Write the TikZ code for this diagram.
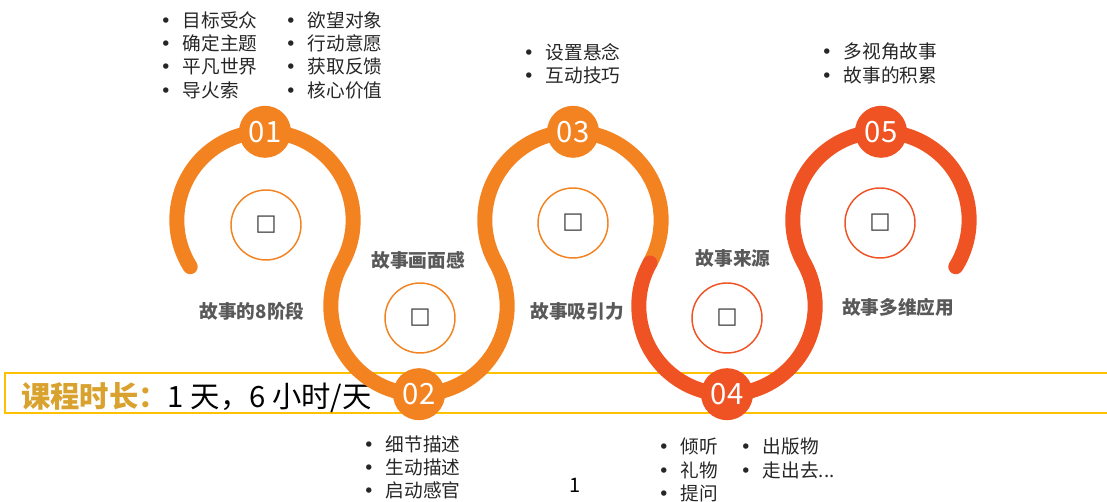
\documentclass[tikz,border=0pt]{standalone}
\usepackage{fontspec}
\setmainfont{Noto Sans CJK SC}
\newfontfamily\symfont{DejaVu Sans}
\definecolor{loopor}{HTML}{F38221}
\definecolor{loopred}{HTML}{EF5324}
\definecolor{labgray}{HTML}{595959}
\definecolor{timegold}{HTML}{D9A22E}
\definecolor{boxyellow}{HTML}{FFC000}
\newcommand\itm[1]{\makebox[17pt][l]{\symfont\textbullet}#1}

\begin{document}
\begin{tikzpicture}[x=.75pt,y=.75pt,
  loopline/.style={line width=11.25pt,line cap=round},
  badge/.style={circle,fill=#1,minimum size=39pt,inner sep=0pt,text=white,font=\fontsize{22}{22}\selectfont},
  hubring/.style={circle,draw=#1,line width=1.1pt,minimum size=52.5pt,inner sep=0pt,text=black!75,font=\symfont\fontsize{17}{17}\selectfont},
  steplab/.style={inner sep=0pt,text=labgray,font=\bfseries\fontsize{14}{14}\selectfont},
  blist/.style={anchor=north west,inner sep=0pt,align=left,text=black!85,font=\fontsize{14}{17.5}\selectfont}]
\useasboundingbox (0,0) rectangle (1107,502);
% course time
\draw[boxyellow,line width=1.2pt] (5,129) rectangle (1120,89);
\node[anchor=west,inner sep=0pt,font=\fontsize{22}{22}\selectfont] (time) at (21,104)
  {\textcolor{timegold}{\bfseries 课程时长：}1 天，6 小时/天};
% loop centres
\coordinate (c1) at (265,282);
\coordinate (c2) at (419,196);
\coordinate (c3) at (573,282);
\coordinate (c4) at (727,196);
\coordinate (c5) at (881,282);
\coordinate (m34) at (650,239);
% snake
\draw[loopline,loopor] (c1) ++(212:88.19)
  arc[start angle=212,end angle=-29.18,radius=88.19]
  arc[start angle=150.82,end angle=389.18,radius=88.19]
  arc[start angle=209.18,end angle=-29.18,radius=88.19];
\draw[loopline,loopred] (m34)
  arc[start angle=150.82,end angle=389.18,radius=88.19]
  arc[start angle=209.18,end angle=-32,radius=88.19];
% badges
\node[badge=loopor] (n1) at (265,370.19) {01};
\node[badge=loopor] (n2) at (419,107.81) {02};
\node[badge=loopor] (n3) at (573,370.19) {03};
\node[badge=loopred] (n4) at (727,107.81) {04};
\node[badge=loopred] (n5) at (881,370.19) {05};
% hubs
\node[hubring=loopor] (h1) at (266,277) {□};
\node[hubring=loopor] (h2) at (420,184) {□};
\node[hubring=loopor] (h3) at (573,279) {□};
\node[hubring=loopred] (h4) at (727,184) {□};
\node[hubring=loopred] (h5) at (880,279) {□};
% labels
\node[steplab] (l1) at (252,191) {故事的8阶段};
\node[steplab] (l2) at (418,242) {故事画面感};
\node[steplab] (l3) at (577,191) {故事吸引力};
\node[steplab] (l4) at (733,244) {故事来源};
\node[steplab] (l5) at (898,195) {故事多维应用};
% lists
\node[blist] (t1a) at (160,491) {\itm{目标受众}\\\itm{确定主题}\\\itm{平凡世界}\\\itm{导火索}};
\node[blist] (t1b) at (285,491) {\itm{欲望对象}\\\itm{行动意愿}\\\itm{获取反馈}\\\itm{核心价值}};
\node[blist] (t3) at (523,459) {\itm{设置悬念}\\\itm{互动技巧}};
\node[blist] (t5) at (821,459) {\itm{多视角故事}\\\itm{故事的积累}};
\node[blist] (t2) at (363,67) {\itm{细节描述}\\\itm{生动描述}\\\itm{启动感官}};
\node[blist] (t4a) at (658,64) {\itm{倾听}\\\itm{礼物}\\\itm{提问}};
\node[blist] (t4b) at (740,64) {\itm{出版物}\\\itm{走出去...}};
% page
\node[font=\fontsize{15}{15}\selectfont] (pg) at (575,17) {1};
\end{tikzpicture}
\end{document}
